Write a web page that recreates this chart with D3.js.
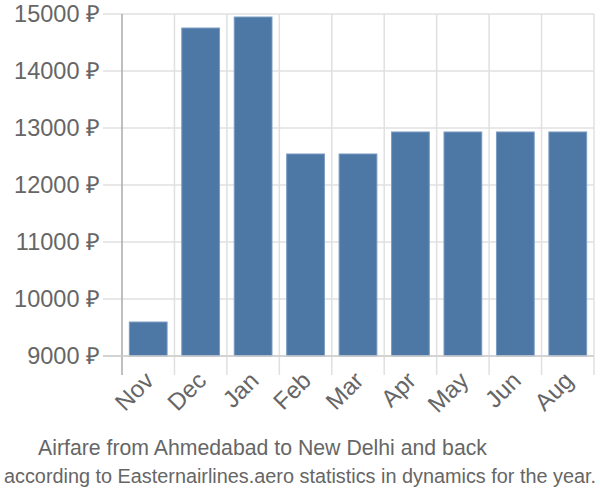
<!DOCTYPE html>
<html>
<head>
<meta charset="utf-8">
<script src="https://cdn.jsdelivr.net/npm/d3@7"></script>
<style>
  body { margin: 0; background: #fff; }
  text { font-family: "Liberation Sans", Arial, sans-serif; fill: #666; }
</style>
</head>
<body>
<div id="vis"></div>
<script>
// Airfare by month, Ahmedabad <-> New Delhi

var months = ['Nov', 'Dec', 'Jan', 'Feb', 'Mar', 'Apr', 'May', 'Jun', 'Aug'];
var prices = [9596, 14754, 14947, 12544, 12544, 12930, 12930, 12930, 12930];
var yTicks = [9000, 10000, 11000, 12000, 13000, 14000, 15000];
var title = 'Airfare from Ahmedabad to New Delhi and back';
var subtitle = 'according to Easternairlines.aero statistics in dynamics for the year.';

var margin = { top: 14, right: 6, bottom: 144, left: 122 };
var W = 600, H = 500;
var width = W - margin.left - margin.right;
var height = H - margin.top - margin.bottom;

var svg = d3.select('#vis').append('svg')
  .attr('width', W)
  .attr('height', H);

var vis = svg.append('g')
  .attr('transform', `translate(${margin.left},${margin.top})`);

var xScale = d3.scaleBand()
  .domain(months)
  .range([0, width])
  .paddingInner(0.28)
  .paddingOuter(0.14);

var yScale = d3.scaleLinear()
  .domain([9000, 15000])
  .range([height, 0]);

var step = xScale.step();

// horizontal grid lines (extend left past the axis like tick marks)
vis.append('g')
  .selectAll('line')
  .data(yTicks)
  .join('line')
  .attr('x1', -19)
  .attr('x2', width)
  .attr('y1', d => yScale(d))
  .attr('y2', d => yScale(d))
  .attr('stroke', '#e0e0e0')
  .attr('stroke-width', 1.5);

// vertical grid lines at band boundaries
vis.append('g')
  .selectAll('line')
  .data(months)
  .join('line')
  .attr('x1', (d, i) => (i + 1) * step)
  .attr('x2', (d, i) => (i + 1) * step)
  .attr('y1', 0)
  .attr('y2', height + 19)
  .attr('stroke', '#e0e0e0')
  .attr('stroke-width', 1.5);

// y axis labels
var yAxis = d3.axisLeft(yScale)
  .tickValues(yTicks)
  .tickSize(0)
  .tickPadding(22)
  .tickFormat(d => d + ' ₽');

vis.append('g')
  .attr('class', 'y-axis')
  .call(yAxis)
  .call(g => g.select('.domain').remove())
  .selectAll('text')
  .style('font-size', '23.5px')
  .attr('fill', '#666');

// bars
vis.append('g')
  .selectAll('rect')
  .data(prices)
  .join('rect')
  .attr('x', (d, i) => xScale(months[i]))
  .attr('width', xScale.bandwidth())
  .attr('y', d => yScale(d))
  .attr('height', d => height - yScale(d))
  .attr('fill', '#4d78a6')
  .attr('stroke', '#7a9bc3')
  .attr('stroke-width', 1);

// axis lines
vis.append('line')
  .attr('x1', 0).attr('x2', 0)
  .attr('y1', 0).attr('y2', height + 19)
  .attr('stroke', '#aaa')
  .attr('stroke-width', 1.5);

vis.append('line')
  .attr('x1', -19).attr('x2', width)
  .attr('y1', height).attr('y2', height)
  .attr('stroke', '#ccc')
  .attr('stroke-width', 1.5);

// x axis labels
var xAxis = d3.axisBottom(xScale).tickSize(0).tickPadding(0);
vis.append('g')
  .attr('class', 'x-axis')
  .attr('transform', `translate(0,${height})`)
  .call(xAxis)
  .call(g => g.select('.domain').remove())
  .selectAll('text')
  .style('font-size', '24px')
  .attr('fill', '#666')
  .attr('text-anchor', 'end')
  .attr('dy', null)
  .attr('transform', 'translate(7,26) rotate(-45)');

// titles
svg.append('text')
  .attr('x', 262.5)
  .attr('y', 455)
  .attr('text-anchor', 'middle')
  .style('font-size', '22.5px')
  .attr('textLength', 449)
  .attr('lengthAdjust', 'spacingAndGlyphs')
  .attr('fill', '#777')
  .text(title);

svg.append('text')
  .attr('x', 300)
  .attr('y', 483)
  .attr('text-anchor', 'middle')
  .style('font-size', '20px')
  .attr('textLength', 592)
  .attr('lengthAdjust', 'spacingAndGlyphs')
  .attr('fill', '#777')
  .text(subtitle);
</script>
</body>
</html>
